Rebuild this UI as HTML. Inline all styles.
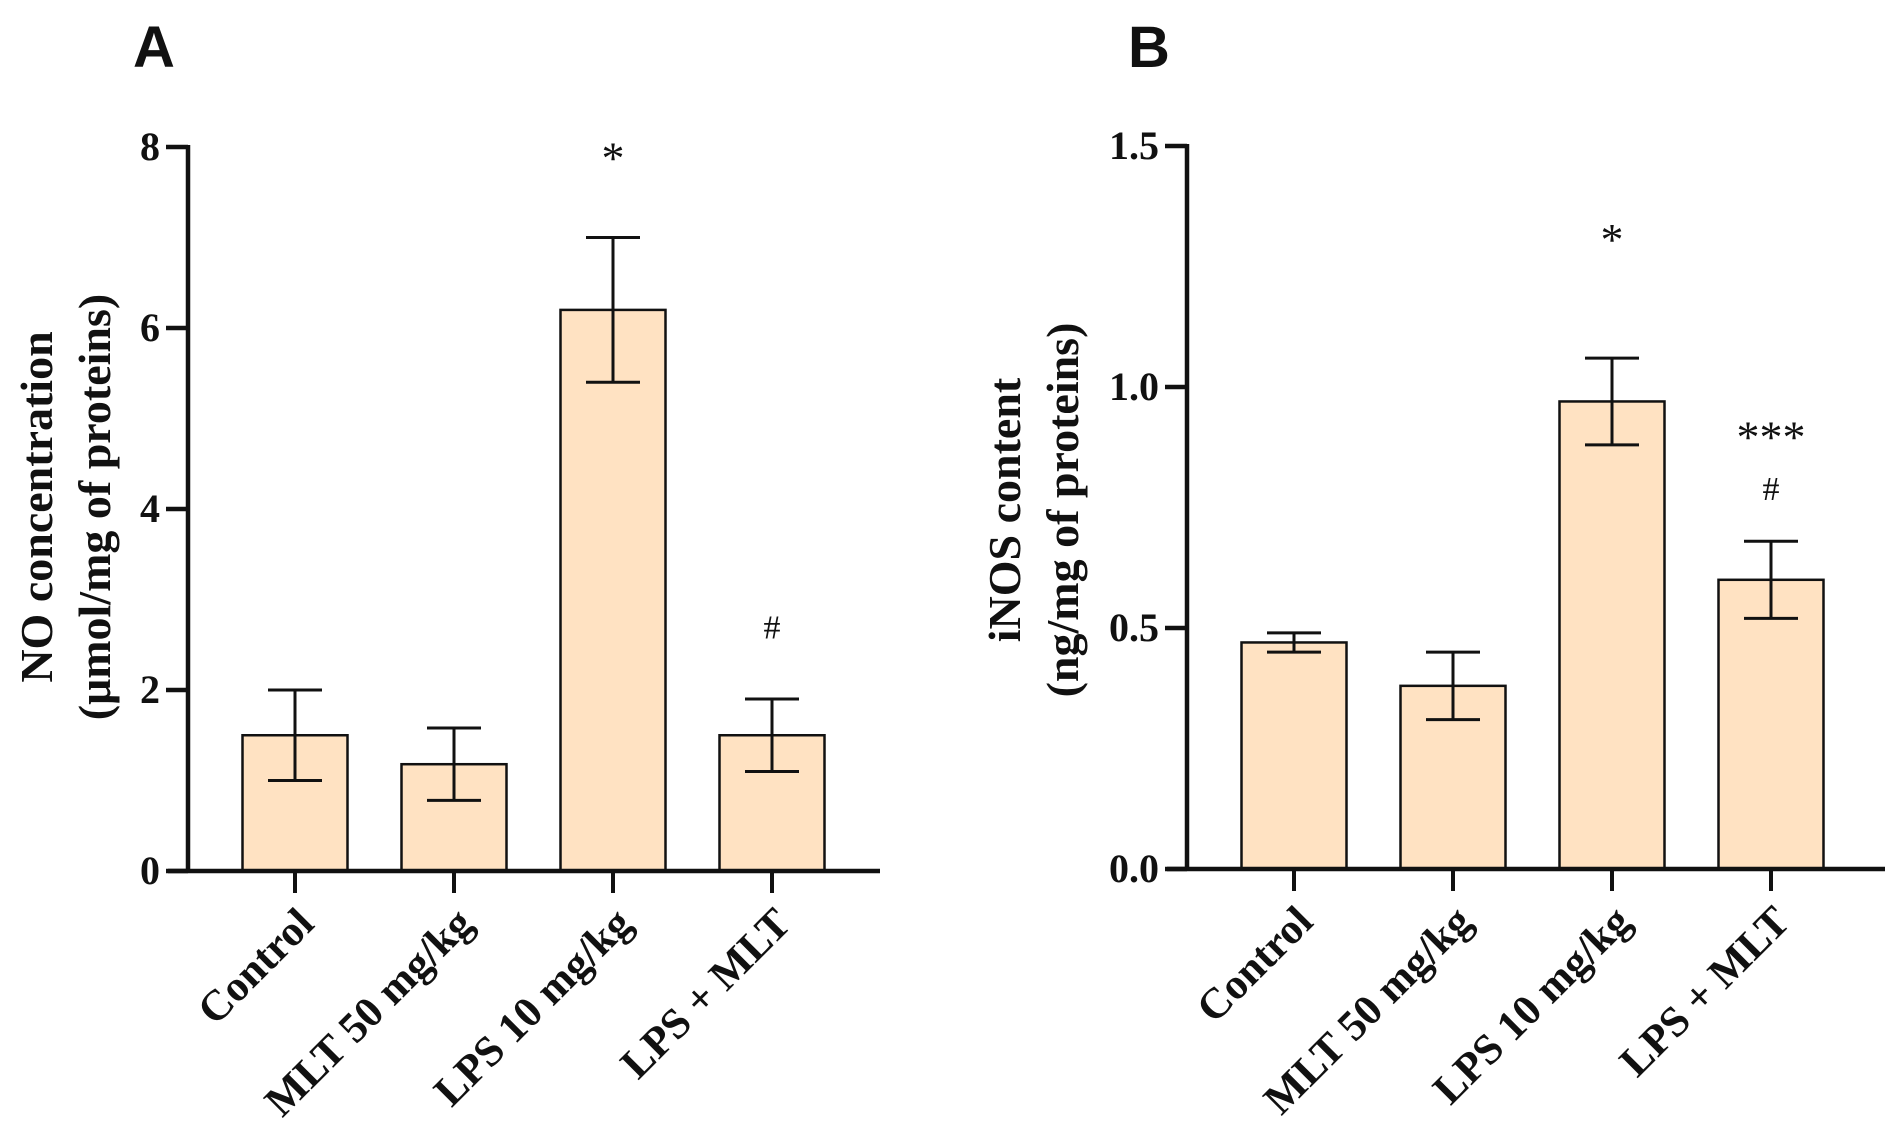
<!DOCTYPE html>
<html><head><meta charset="utf-8"><style>
html,body{margin:0;padding:0;background:#fff;}
svg{display:block;}
text{font-family:"Liberation Serif",serif;font-weight:bold;fill:#111;}
</style></head><body>
<svg id="chart" width="1893" height="1144" viewBox="0 0 1893 1144" xmlns="http://www.w3.org/2000/svg">
<text x="133" y="67" style="font-family:'Liberation Sans',sans-serif;font-size:58px;font-weight:900">A</text>
<text x="1128" y="67" style="font-family:'Liberation Sans',sans-serif;font-size:58px;font-weight:900">B</text>
<text transform="translate(52,507) rotate(-90)" text-anchor="middle" font-size="46">NO concentration</text>
<text transform="translate(110,507) rotate(-90)" text-anchor="middle" font-size="46">(μmol/mg of proteins)</text>
<text transform="translate(1020,510) rotate(-90)" text-anchor="middle" font-size="46">iNOS  content</text>
<text transform="translate(1078,510) rotate(-90)" text-anchor="middle" font-size="46">(ng/mg of proteins)</text>
</svg>
<script>
const categories = ["Control", "MLT 50 mg/kg", "LPS 10 mg/kg", "LPS + MLT"];
const noValues = [1.5, 1.18, 6.2, 1.5];
const noErrors = [0.5, 0.4, 0.8, 0.4];
const noTicks = [0, 2, 4, 6, 8];
const noTickLabels = ["0", "2", "4", "6", "8"];
const noAnnotations = ["", "", "*", "#"];
const noAnnotValues = [0, 0, 7.95, 2.7];
const inosValues = [0.47, 0.38, 0.97, 0.60];
const inosErrors = [0.02, 0.07, 0.09, 0.08];
const inosTicks = [0, 0.5, 1.0, 1.5];
const inosTickLabels = ["0.0", "0.5", "1.0", "1.5"];
const inosAnnotations = [[], [], [{t:"*", v:1.32}], [{t:"***", v:0.91}, {t:"#", v:0.79}]];

const svg = document.getElementById('chart');
const NS = 'http://www.w3.org/2000/svg';
function mk(tag, attrs, parent){const e=document.createElementNS(NS,tag);for(const k in attrs)e.setAttribute(k,attrs[k]);(parent||svg).appendChild(e);return e;}

function panel(cfg){
  const g = mk('g',{});
  
  
  const y = v => cfg.y0 - (v - 0) / cfg.max * (cfg.y0 - cfg.yTop);
  const x = i => cfg.x0 + cfg.first + i * cfg.step;
  categories.forEach((c,i)=>{
    const v = cfg.values[i], e = cfg.errors[i];
    const b = mk('rect',{x:x(i)-52.5, y:y(v), width:105, height:cfg.y0-y(v), fill:'#FFE2C2', stroke:'#111', 'stroke-width':2.5}, g);
    
    
    const eb = mk('g',{stroke:'#111','stroke-width':3}, g);
    
    
    mk('line',{x1:x(i),x2:x(i),y1:y(v+e),y2:y(v-e)},eb);
    mk('line',{x1:x(i)-27,x2:x(i)+27,y1:y(v+e),y2:y(v+e)},eb);
    mk('line',{x1:x(i)-27,x2:x(i)+27,y1:y(v-e),y2:y(v-e)},eb);
    mk('line',{x1:x(i),x2:x(i),y1:cfg.y0,y2:cfg.y0+22,stroke:'#111','stroke-width':4},g);
    const t = mk('text',{transform:`translate(${x(i)},${cfg.y0+34}) rotate(-45)`,'text-anchor':'end','dominant-baseline':'hanging','font-size':43},g);
    t.textContent = c;
    
    
    cfg.annots(i).forEach(a=>{
      const fs = a.t==='#'?34:46;
      const at = mk('text',{x:x(i),y:y(a.v)+(a.t==='#'?12:22),'text-anchor':'middle','font-size':fs,style:'font-weight:normal'},g);
      at.textContent = a.t;
      
      
    });
  });
  const ya = mk('line',{x1:cfg.x0,x2:cfg.x0,y1:cfg.yTop-2,y2:cfg.y0+2,stroke:'#111','stroke-width':4.5},g);
  
  
  const xa = mk('line',{x1:cfg.x0-20,x2:cfg.xEnd,y1:cfg.y0,y2:cfg.y0,stroke:'#111','stroke-width':4.5},g);
  
  
  cfg.ticks.forEach((tv,j)=>{
    mk('line',{x1:cfg.x0-22,x2:cfg.x0,y1:y(tv),y2:y(tv),stroke:'#111','stroke-width':4.5},g);
    const tl = mk('text',{x:cfg.x0-28,y:y(tv)+13,'text-anchor':'end','font-size':40},g);
    tl.textContent = cfg.tickLabels[j];
    
    
  });
}
panel({name:'panel-a-chart', x0:188, xEnd:880, y0:871, yTop:147, max:8, first:107, step:159,
  values:noValues, errors:noErrors, ticks:noTicks, tickLabels:noTickLabels,
  annots:i=> noAnnotations[i] ? [{t:noAnnotations[i], v:noAnnotValues[i]}] : []});
panel({name:'panel-b-chart', x0:1187, xEnd:1885, y0:869, yTop:146, max:1.5, first:107, step:159,
  values:inosValues, errors:inosErrors, ticks:inosTicks, tickLabels:inosTickLabels,
  annots:i=> inosAnnotations[i]});
</script>
</body></html>
